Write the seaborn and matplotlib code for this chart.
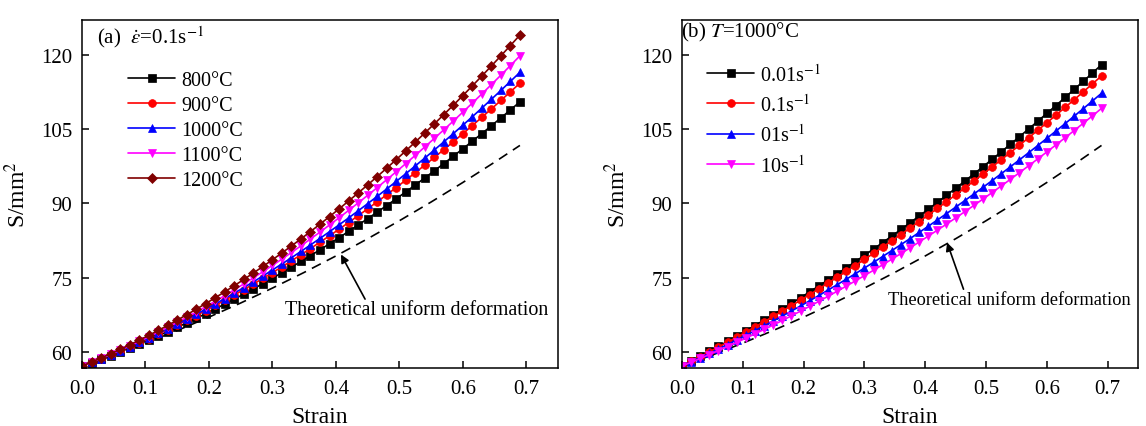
import matplotlib
matplotlib.use("Agg")
import matplotlib.pyplot as plt
import seaborn as sns
import pandas as pd

# ---------------- data ----------------
strain = [0.0, 0.015, 0.03, 0.045, 0.06, 0.075, 0.09, 0.105, 0.12, 0.135,
          0.15, 0.165, 0.18, 0.195, 0.21, 0.225, 0.24, 0.255, 0.27, 0.285,
          0.30, 0.315, 0.33, 0.345, 0.36, 0.375, 0.39, 0.405, 0.42, 0.435,
          0.45, 0.465, 0.48, 0.495, 0.51, 0.525, 0.54, 0.555, 0.57, 0.585,
          0.60, 0.615, 0.63, 0.645, 0.66, 0.675, 0.69]

# panel (a): strain rate 0.1 s^-1, different temperatures
s_800 = [57.20, 57.89, 58.59, 59.32, 60.07, 60.84, 61.63, 62.44, 63.28, 64.13,
         65.01, 65.90, 66.82, 67.76, 68.72, 69.70, 70.70, 71.72, 72.76, 73.83,
         74.91, 76.02, 77.14, 78.29, 79.46, 80.65, 81.86, 83.09, 84.35, 85.62,
         86.92, 88.23, 89.57, 90.93, 92.31, 93.71, 95.13, 96.57, 98.03, 99.52,
         101.02, 102.55, 104.09, 105.66, 107.25, 108.86, 110.49]
s_900 = [57.20, 57.92, 58.67, 59.44, 60.23, 61.05, 61.88, 62.74, 63.63, 64.54,
         65.47, 66.42, 67.39, 68.39, 69.42, 70.46, 71.53, 72.62, 73.73, 74.87,
         76.03, 77.21, 78.42, 79.65, 80.90, 82.18, 83.47, 84.79, 86.14, 87.51,
         88.90, 90.31, 91.74, 93.20, 94.69, 96.19, 97.72, 99.27, 100.84, 102.44,
         104.06, 105.70, 107.37, 109.06, 110.77, 112.51, 114.26]
s_1000 = [57.20, 57.93, 58.69, 59.48, 60.29, 61.12, 61.98, 62.86, 63.77, 64.70,
          65.65, 66.63, 67.64, 68.67, 69.72, 70.80, 71.91, 73.03, 74.19, 75.36,
          76.57, 77.79, 79.04, 80.32, 81.62, 82.95, 84.30, 85.67, 87.07, 88.49,
          89.94, 91.41, 92.91, 94.43, 95.98, 97.55, 99.14, 100.76, 102.41, 104.08,
          105.77, 107.49, 109.23, 111.00, 112.79, 114.61, 116.45]
s_1100 = [57.20, 57.96, 58.75, 59.57, 60.41, 61.27, 62.17, 63.09, 64.04, 65.01,
          66.01, 67.04, 68.10, 69.18, 70.28, 71.42, 72.58, 73.77, 74.98, 76.22,
          77.49, 78.78, 80.10, 81.45, 82.82, 84.22, 85.65, 87.10, 88.58, 90.09,
          91.62, 93.18, 94.77, 96.38, 98.02, 99.68, 101.38, 103.10, 104.84, 106.61,
          108.41, 110.24, 112.09, 113.97, 115.87, 117.81, 119.77]
s_1200 = [57.20, 57.99, 58.82, 59.67, 60.55, 61.46, 62.40, 63.37, 64.37, 65.40,
          66.46, 67.54, 68.66, 69.80, 70.98, 72.18, 73.41, 74.67, 75.96, 77.28,
          78.63, 80.01, 81.42, 82.85, 84.32, 85.82, 87.34, 88.89, 90.48, 92.09,
          93.73, 95.40, 97.10, 98.83, 100.58, 102.37, 104.19, 106.03, 107.91, 109.81,
          111.74, 113.71, 115.70, 117.72, 119.77, 121.85, 123.96]

# panel (b): T = 1000 C, different strain rates
r_001 = [57.20, 58.17, 59.15, 60.15, 61.16, 62.19, 63.23, 64.29, 65.37, 66.46,
         67.57, 68.69, 69.83, 70.99, 72.16, 73.35, 74.55, 75.77, 77.00, 78.25,
         79.52, 80.80, 82.10, 83.41, 84.74, 86.09, 87.45, 88.82, 90.22, 91.62,
         93.05, 94.49, 95.94, 97.41, 98.90, 100.40, 101.92, 103.46, 105.01, 106.57,
         108.16, 109.75, 111.37, 113.00, 114.64, 116.30, 117.98]
r_01 = [57.20, 58.13, 59.08, 60.04, 61.01, 62.00, 63.01, 64.03, 65.07, 66.12,
        67.19, 68.27, 69.37, 70.48, 71.61, 72.75, 73.91, 75.08, 76.27, 77.47,
        78.69, 79.93, 81.18, 82.44, 83.72, 85.02, 86.33, 87.65, 88.99, 90.35,
        91.72, 93.10, 94.51, 95.92, 97.35, 98.80, 100.26, 101.74, 103.23, 104.74,
        106.26, 107.80, 109.36, 110.92, 112.51, 114.11, 115.72]
r_1 = [57.20, 58.04, 58.89, 59.76, 60.64, 61.54, 62.46, 63.39, 64.34, 65.30,
       66.28, 67.28, 68.29, 69.32, 70.36, 71.42, 72.50, 73.59, 74.70, 75.82,
       76.96, 78.12, 79.29, 80.48, 81.68, 82.90, 84.14, 85.39, 86.66, 87.94,
       89.24, 90.56, 91.89, 93.24, 94.60, 95.98, 97.38, 98.79, 100.22, 101.66,
       103.12, 104.60, 106.09, 107.60, 109.12, 110.66, 112.22]
r_10 = [57.20, 57.95, 58.72, 59.51, 60.31, 61.13, 61.96, 62.82, 63.69, 64.57,
        65.47, 66.39, 67.33, 68.28, 69.25, 70.24, 71.25, 72.27, 73.30, 74.36,
        75.43, 76.52, 77.62, 78.74, 79.88, 81.04, 82.21, 83.40, 84.60, 85.82,
        87.06, 88.32, 89.59, 90.88, 92.19, 93.51, 94.85, 96.21, 97.58, 98.97,
        100.38, 101.80, 103.24, 104.70, 106.17, 107.66, 109.17]

# theoretical uniform deformation (dashed), same in both panels
theory_strain = [0.0, 0.05, 0.10, 0.15, 0.20, 0.25, 0.30, 0.35, 0.40, 0.45,
                 0.50, 0.55, 0.60, 0.65, 0.69]
theory_s = [57.20, 59.43, 61.82, 64.36, 67.06, 69.91, 72.92, 76.08, 79.40, 82.87,
            86.50, 90.28, 94.22, 98.31, 101.70]

labels_a = ["800\u00b0C", "900\u00b0C", "1000\u00b0C", "1100\u00b0C", "1200\u00b0C"]
labels_b = [r"0.01s$^{-1}$", r"0.1s$^{-1}$", r"01s$^{-1}$", r"10s$^{-1}$"]
xticks = [0.0, 0.1, 0.2, 0.3, 0.4, 0.5, 0.6, 0.7]
yticks = [60, 75, 90, 105, 120]
annot_text = "Theoretical uniform deformation"
title_a = r"(a)  $\dot{\varepsilon}$=0.1s$^{-1}$"
title_b = r"(b) $T$=1000" + "\u00b0C"

# ---------------- style ----------------
sns.set_style("ticks")
plt.rcParams["font.family"] = ["Liberation Serif", "DejaVu Serif"]
plt.rcParams["mathtext.fontset"] = "stix"
plt.rcParams["axes.linewidth"] = 1.1
for key in ["text.color", "axes.labelcolor", "xtick.color", "ytick.color", "axes.edgecolor"]:
    plt.rcParams[key] = "black"

fig = plt.figure(figsize=(11.46, 4.27), dpi=100)
W, H = 1146, 427
ax1 = fig.add_axes([82 / W, 58 / H, 476 / W, 348 / H])
ax2 = fig.add_axes([682 / W, 58 / H, 456 / W, 348 / H])

colors_a = ["#000000", "#FF0000", "#0000FF", "#FF00FF", "#800000"]
markers_a = ["s", "o", "^", "v", "D"]
series_a = [s_800, s_900, s_1000, s_1100, s_1200]
colors_b = ["#000000", "#FF0000", "#0000FF", "#FF00FF"]
markers_b = ["s", "o", "^", "v"]
series_b = [r_001, r_01, r_1, r_10]

for ax, series, labs, cols, mks in [(ax1, series_a, labels_a, colors_a, markers_a),
                                     (ax2, series_b, labels_b, colors_b, markers_b)]:
    sns.lineplot(x=theory_strain, y=theory_s, ax=ax, color="black", lw=1.2,
                 linestyle=(0, (6, 4)), legend=False)
    for vals, lab, c, m in zip(series, labs, cols, mks):
        df = pd.DataFrame({"strain": strain, "S": vals})
        sns.lineplot(data=df, x="strain", y="S", ax=ax, color=c, marker=m,
                     markersize=5.6 if m != "D" else 5.0, markeredgecolor=c,
                     markeredgewidth=0.5, lw=1.2, label=lab)
    ax.set_xlim(0, 0.75)
    ax.set_ylim(56.8, 127)
    ax.set_xticks(xticks)
    ax.set_xticklabels([f"{t:.1f}" for t in xticks])
    ax.set_yticks(yticks)
    ax.tick_params(direction="in", length=5, width=1.1, labelsize=15, top=False,
                   right=False, colors="black")
    ax.tick_params(axis="y", pad=7)
    ax.tick_params(axis="x", pad=8)
    for sp in ax.spines.values():
        sp.set_visible(True)
        sp.set_linewidth(1.1)
        sp.set_color("black")
    ax.set_xlabel("Strain", fontsize=17, labelpad=6)
    ax.set_ylabel(r"S/mm$^2$", fontsize=17, labelpad=8)

# legends
ax1.legend(loc="upper left", bbox_to_anchor=(0.097, 0.855), frameon=False, fontsize=14.5,
           handlelength=2.35, handletextpad=0.3, labelspacing=0.3, borderpad=0,
           borderaxespad=0)
ax2.legend(loc="upper left", bbox_to_anchor=(0.055, 0.876), frameon=False, fontsize=14.5,
           handlelength=2.35, handletextpad=0.3, labelspacing=0.42, borderpad=0,
           borderaxespad=0)

# panel titles
ax1.text(0.032, 0.954, title_a, transform=ax1.transAxes,
         fontsize=15, ha="left", va="center")
ax2.text(-0.002, 0.968, title_b, transform=ax2.transAxes,
         fontsize=15, ha="left", va="center")

# annotations
arrow = dict(arrowstyle="-|>", color="black", lw=1.2, mutation_scale=12,
             shrinkA=0, shrinkB=0)
ax1.annotate("", xy=(0.408, 79.7), xytext=(0.446, 70.7), arrowprops=arrow)
ax1.text(0.527, 68.7, annot_text, fontsize=14.4, ha="center", va="center")
ax2.annotate("", xy=(0.436, 82.1), xytext=(0.463, 72.7), arrowprops=arrow)
ax2.text(0.539, 70.7, annot_text, fontsize=13.2, ha="center", va="center")

fig.savefig("out.png", dpi=100)
